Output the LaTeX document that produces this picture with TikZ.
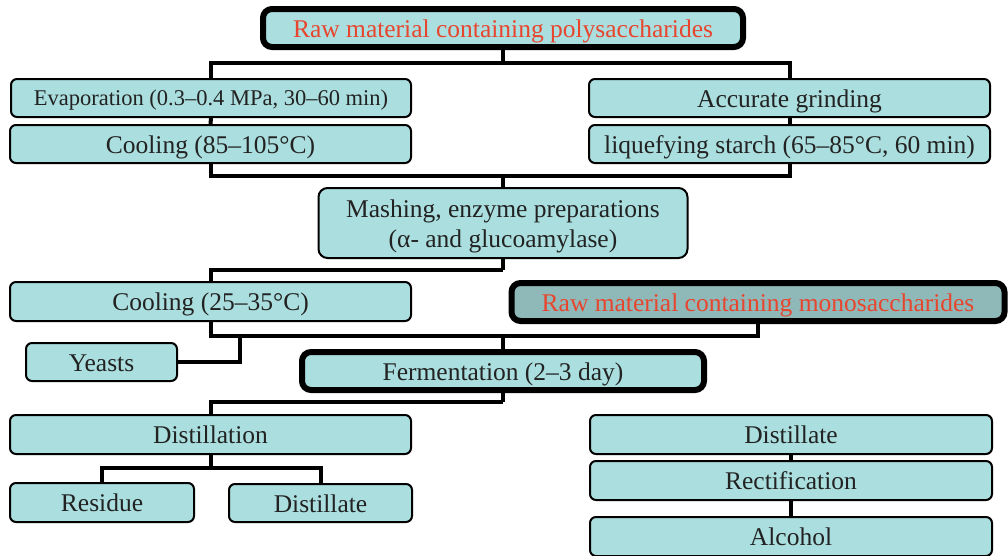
\documentclass[tikz,border=0pt]{standalone}
\usepackage{fontspec}
\setmainfont{Liberation Serif}
\definecolor{boxfill}{HTML}{ABDEDE}
\definecolor{monofill}{HTML}{8FB9B9}
\definecolor{redtxt}{HTML}{E8452E}
\definecolor{txt}{HTML}{222222}
\tikzset{
  box/.style={draw=black, line width=2pt, fill=boxfill, rounded corners=6pt,
    text=txt, inner sep=0pt, align=center, text height=22pt, text depth=4pt,
    font=\fontsize{25.5}{30}\selectfont},
  thickbox/.style={box, line width=6pt, rounded corners=9pt},
  conn/.style={draw=black, line width=4pt}
}
\begin{document}
\begin{tikzpicture}[x=1pt,y=-1pt]
\useasboundingbox (0,0) rectangle (1008,555);
% nodes
\node[thickbox, fill=boxfill, text=redtxt, minimum width=480pt, minimum height=38pt] (top) at (503,28) {Raw material containing polysaccharides};
\node[box, minimum width=400pt, minimum height=38pt, text height=19pt, text depth=4pt, font=\fontsize{22.5}{27}\selectfont] (evap) at (211,98) {Evaporation (0.3–0.4 MPa, 30–60 min)};
\node[box, minimum width=401pt, minimum height=38pt] (cool1) at (210.5,144) {Cooling (85–105°C)};
\node[box, minimum width=401pt, minimum height=38pt] (grind) at (789.5,98) {Accurate grinding};
\node[box, minimum width=401pt, minimum height=38pt] (liq) at (789.5,144) {liquefying starch (65–85°C, 60 min)};
\node[box, minimum width=369pt, minimum height=70pt, rounded corners=9pt, text height=52pt, text depth=4pt] (mash) at (503,223) {Mashing, enzyme preparations\\(α- and glucoamylase)};
\node[box, minimum width=401pt, minimum height=39pt] (cool2) at (210.5,301.5) {Cooling (25–35°C)};
\node[thickbox, fill=monofill, text=redtxt, minimum width=493pt, minimum height=38pt] (mono) at (758,302) {Raw material containing monosaccharides};
\node[box, minimum width=151pt, minimum height=38pt] (yeasts) at (101.5,362) {Yeasts};
\node[thickbox, minimum width=402pt, minimum height=38pt] (ferm) at (503,371) {Fermentation (2–3 day)};
\node[box, minimum width=401pt, minimum height=39pt] (dist) at (210.5,434.5) {Distillation};
\node[box, minimum width=184pt, minimum height=39pt] (res) at (102,502.5) {Residue};
\node[box, minimum width=183pt, minimum height=38pt] (distL) at (320.5,503) {Distillate};
\node[box, minimum width=402pt, minimum height=39pt] (distR) at (791,434.5) {Distillate};
\node[box, minimum width=402pt, minimum height=39pt] (rect) at (791,480.5) {Rectification};
\node[box, minimum width=402pt, minimum height=39pt] (alc) at (791,536.5) {Alcohol};
% junctions
\coordinate (j1) at (503,63);
\coordinate (j2) at (503,176);
\coordinate (j3) at (503,270);
\coordinate (j4) at (503,336);
\coordinate (jy) at (240,336);
\coordinate (j5) at (503,402);
\coordinate (j6) at (210.5,468);
% connectors
\draw[conn] (top.south) -- (j1);
\draw[conn] (evap.north) |- (j1) -| (grind.north);
\draw[conn] (evap.south) -- (cool1.north);
\draw[conn] (grind.south) -- (liq.north);
\draw[conn] (cool1.south) |- (j2) -| (liq.south);
\draw[conn] (j2) -- (mash.north);
\draw[conn] (mash.south) -- (j3);
\draw[conn] (cool2.north) |- (j3);
\draw[conn] (cool2.south) |- (j4) -| (mono.south);
\draw[conn] (j4) -- (ferm.north);
\draw[conn] (yeasts.east) -| (jy);
\draw[conn] (ferm.south) -- (j5);
\draw[conn] (dist.north) |- (j5);
\draw[conn] (dist.south) -- (j6);
\draw[conn] (res.north) |- (j6) -| (distL.north);
\draw[conn] (distR.south) -- (rect.north);
\draw[conn] (rect.south) -- (alc.north);
\end{tikzpicture}
\end{document}
